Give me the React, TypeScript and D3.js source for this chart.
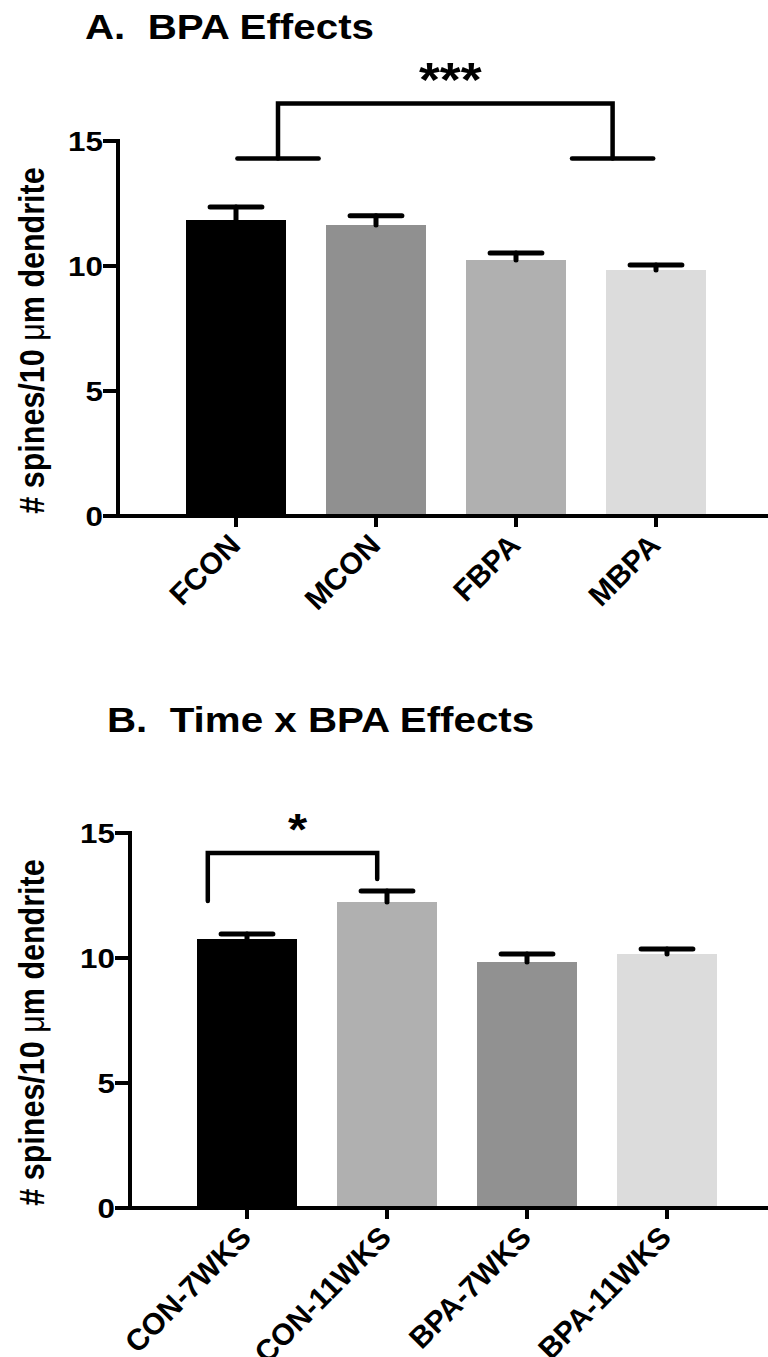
import * as d3 from 'd3'

const catsA = ['FCON', 'MCON', 'FBPA', 'MBPA']
const meansA = [11.84, 11.64, 10.24, 9.84]
const semsA = [0.52, 0.37, 0.28, 0.2]
const fillsA = ['#000000', '#909090', '#b0b0b0', '#dcdcdc']

const catsB = ['CON-7WKS', 'CON-11WKS', 'BPA-7WKS', 'BPA-11WKS']
const meansB = [10.76, 12.24, 9.84, 10.16]
const semsB = [0.2, 0.44, 0.32, 0.2]
const fillsB = ['#000000', '#b0b0b0', '#919191', '#dcdcdc']

const yTicks = [0, 5, 10, 15]
const FONT = '"Liberation Sans", Arial, Helvetica, sans-serif'
const SX = 1.12 // the source figure is stretched sideways a little

type Bracket = { x1: number; x2: number; top: number; b1: number; b2: number; feet: number; label: string; labelSize: number }

function Panel({ title, titleX, titleY, cats, means, sems, fills, axisX, y0, y15, bandStart, bracket }: any) {
  const y = d3.scaleLinear().domain([0, 15]).range([y0, y15])
  const x = d3.scaleBand<string>().domain(cats).range([bandStart, bandStart + 560]).paddingInner(2 / 7).paddingOuter(1 / 7)
  const bw = x.bandwidth()
  const step = x.step()
  const cx = (c: string) => (x(c) ?? 0) + bw / 2
  const br: Bracket = bracket(cx, step)
  const capW = 0.37 * step

  return (
    <g>
      <text transform={`translate(${titleX},${titleY}) scale(${SX},1)`} fontSize={36} fontWeight="bold" fontFamily={FONT} style={{ whiteSpace: 'pre' }}>{title}</text>

      {cats.map((c: string, i: number) => (
        <rect key={c} x={x(c)} y={y(means[i])} width={bw} height={y(0) - y(means[i])} fill={fills[i]} />
      ))}
      {cats.map((c: string, i: number) => (
        <g key={c + 'e'} stroke="#000" strokeWidth={5} strokeLinecap="round">
          <line x1={cx(c)} x2={cx(c)} y1={y(means[i])} y2={y(means[i] + sems[i])} />
          <line x1={cx(c) - capW / 2} x2={cx(c) + capW / 2} y1={y(means[i] + sems[i])} y2={y(means[i] + sems[i])} />
        </g>
      ))}

      {/* axes */}
      <line x1={axisX} x2={axisX} y1={y(15) - 2} y2={y(0) + 2} stroke="#000" strokeWidth={4} />
      <line x1={axisX - 15} x2={768} y1={y(0)} y2={y(0)} stroke="#000" strokeWidth={4} />
      {yTicks.map(t => (
        <g key={t}>
          <line x1={axisX - 15} x2={axisX} y1={y(t)} y2={y(t)} stroke="#000" strokeWidth={4} />
          <text transform={`translate(${axisX - 15},${y(t) + 10}) scale(${SX},1)`} textAnchor="end" fontSize={28} fontWeight="bold" fontFamily={FONT}>{t}</text>
        </g>
      ))}
      {cats.map((c: string) => (
        <g key={c + 't'}>
          <line x1={cx(c)} x2={cx(c)} y1={y(0)} y2={y(0) + 11} stroke="#000" strokeWidth={4} />
          <text transform={`translate(${cx(c) + 6},${y(0) + 31}) rotate(-45)`} textAnchor="end" fontSize={30} fontWeight="bold" fontFamily={FONT}>{c}</text>
        </g>
      ))}

      <text transform={`translate(44,${(y(0) + y(15)) / 2 + 12}) scale(${SX},1) rotate(-90)`} textAnchor="middle" fontSize={30.5} fontWeight="bold" fontFamily={FONT}>
        # spines/10 <tspan fontWeight="normal">μ</tspan>m dendrite
      </text>

      {/* significance bracket */}
      <g stroke="#000" strokeWidth={4.5} strokeLinecap="round" fill="none">
        <path d={`M${br.x1},${y(br.b1)}V${y(br.top)}H${br.x2}V${y(br.b2)}`} />
        {br.feet > 0 && <line x1={br.x1 - br.feet} x2={br.x1 + br.feet} y1={y(br.b1)} y2={y(br.b1)} />}
        {br.feet > 0 && <line x1={br.x2 - br.feet} x2={br.x2 + br.feet} y1={y(br.b2)} y2={y(br.b2)} />}
      </g>
      <text transform={`translate(${(br.x1 + br.x2) / 2 + 5},${y(br.top) - 8}) scale(${SX},1)`} textAnchor="middle" fontSize={br.labelSize} fontWeight="bold" fontFamily={FONT}>{br.label}</text>
    </g>
  )
}

export default function App() {
  return (
    <svg width={768} height={1357} style={{ position: 'absolute', left: 0, top: 0, background: '#fff' }}>
      <Panel title="A.  BPA Effects" titleX={85} titleY={39} cats={catsA} means={meansA} sems={semsA} fills={fillsA}
        axisX={118} y0={516} y15={141} bandStart={166}
        bracket={(cx: any, step: number) => ({ x1: cx('FCON') + 0.3 * step, x2: cx('MBPA') - 0.31 * step, top: 16.5, b1: 14.3, b2: 14.3, feet: 0.29 * step, label: '***', labelSize: 48 })} />
      <Panel title="B.  Time x BPA Effects" titleX={107} titleY={732} cats={catsB} means={meansB} sems={semsB} fills={fillsB}
        axisX={130} y0={1208} y15={833} bandStart={177}
        bracket={(cx: any, step: number) => ({ x1: cx('CON-7WKS') - 0.28 * step, x2: cx('CON-11WKS') - 0.07 * step, top: 14.2, b1: 12.28, b2: 13.16, feet: 0, label: '*', labelSize: 44 })} />
    </svg>
  )
}
